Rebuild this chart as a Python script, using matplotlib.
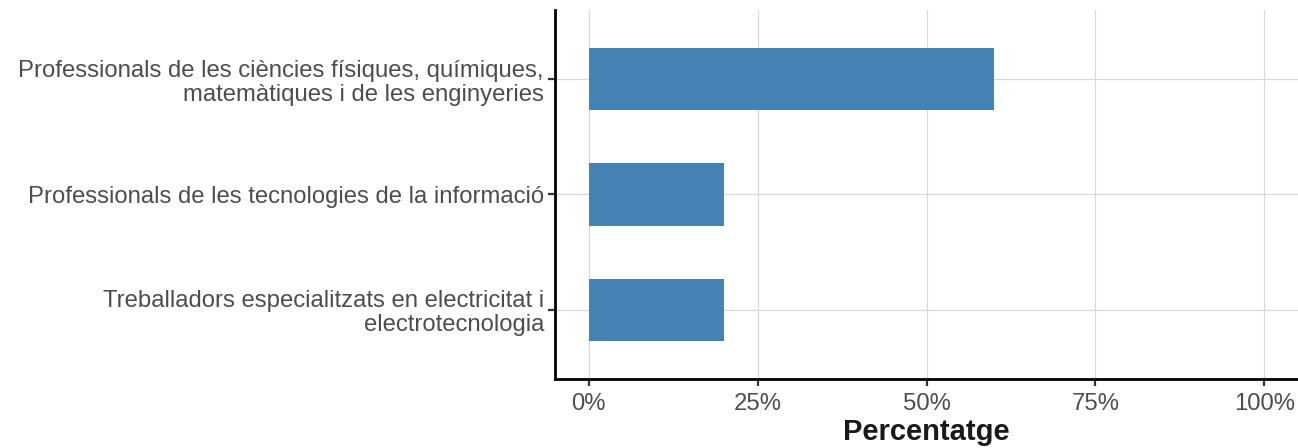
import matplotlib.pyplot as plt
import numpy as np

plt.rcParams['font.family'] = ['Liberation Sans', 'DejaVu Sans']

categories = ["Treballadors especialitzats en electricitat i\nelectrotecnologia",
              "Professionals de les tecnologies de la informació",
              "Professionals de les ciències físiques, químiques,\nmatemàtiques i de les enginyeries"]
values = [20, 20, 60]
xticks = [0, 25, 50, 75, 100]
xticklabels = ["0%", "25%", "50%", "75%", "100%"]

fig = plt.figure(figsize=(12.98, 4.48), dpi=100)
ax = fig.add_axes([0.4276, 0.154, 0.5724, 0.8237])

y = np.arange(1, len(categories) + 1)
ax.barh(y, values, height=0.54, color='#4682B4', zorder=2)

ax.set_xlim(-5, 105)
ax.set_ylim(0.4, 3.6)
ax.set_xticks(xticks)
ax.set_xticklabels(xticklabels)
ax.set_yticks(y)
ax.set_yticklabels(categories, ha='right', multialignment='right', linespacing=1.12)

ax.grid(True, color='#D9D9D9', linewidth=0.9, zorder=0)
ax.set_axisbelow(True)
for s in ['top', 'right']:
    ax.spines[s].set_visible(False)
for s in ['left', 'bottom']:
    ax.spines[s].set_linewidth(2)
    ax.spines[s].set_color('black')

ax.tick_params(axis='both', colors='#333333', length=5, width=1.6,
               labelsize=17.2, labelcolor='#4D4D4D')
ax.tick_params(axis='x', pad=5)
ax.tick_params(axis='y', pad=3)
ax.set_xlabel('Percentatge', fontsize=21, fontweight='bold', color='#1A1A1A', labelpad=2)

fig.savefig('out.png', dpi=100)
